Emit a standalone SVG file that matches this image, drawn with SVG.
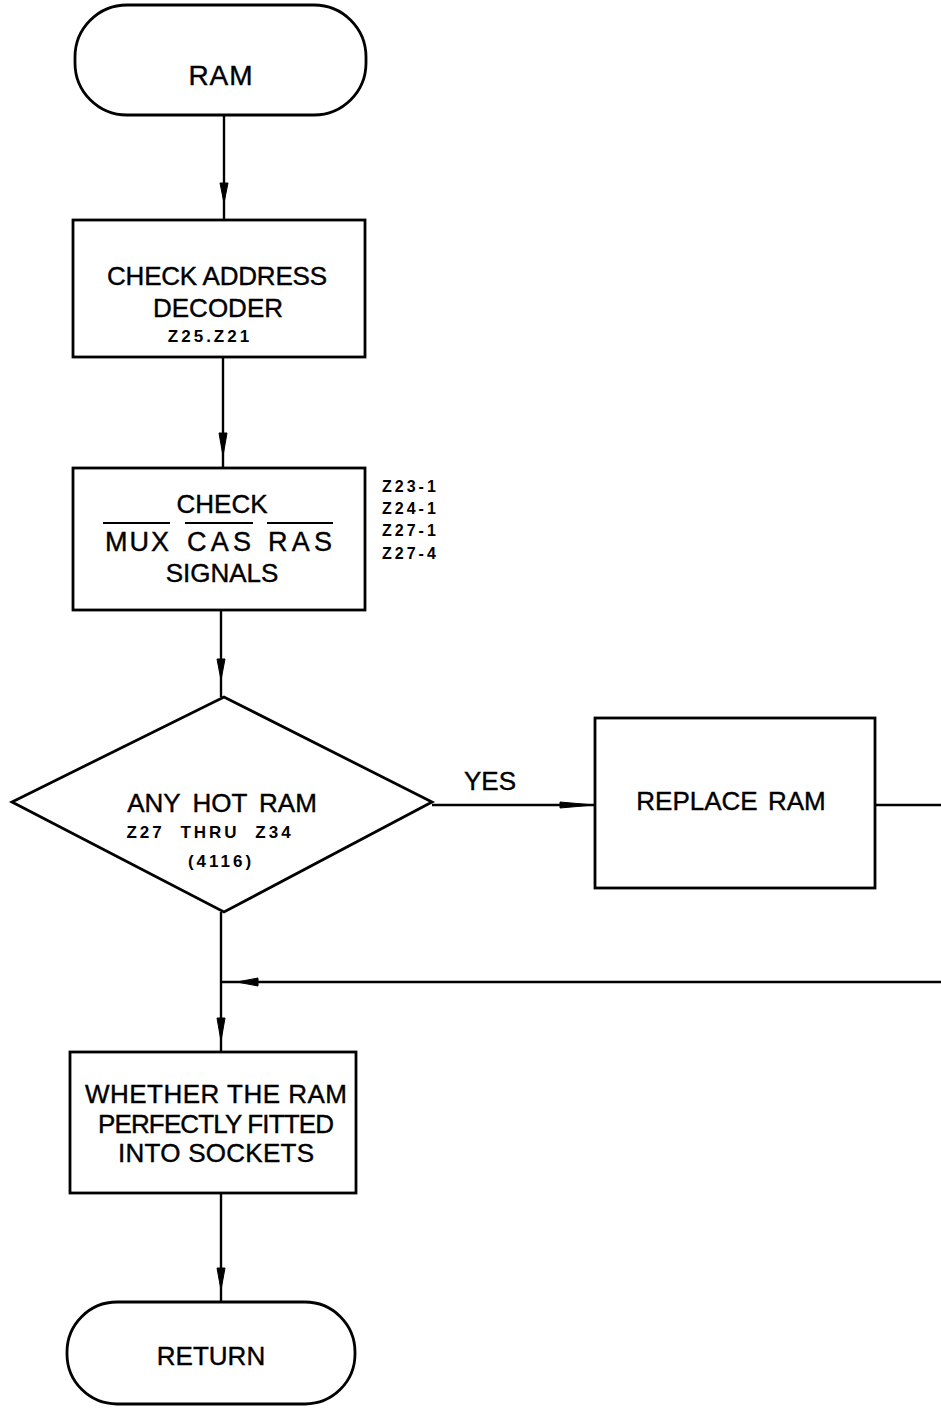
<svg xmlns="http://www.w3.org/2000/svg" width="941" height="1408" viewBox="0 0 941 1408">
<style>
.shape{fill:#fff;stroke:#000;stroke-width:2.8}
.line{fill:none;stroke:#000;stroke-width:2.4}
.head{fill:#000;stroke:#000;stroke-width:1}
.t{font-family:"Liberation Sans",Arial,sans-serif;font-size:26px;fill:#000;stroke:#000;stroke-width:0.4;text-anchor:middle}
.b{font-family:"Liberation Sans",Arial,sans-serif;font-size:17px;font-weight:bold;fill:#000;letter-spacing:3px}
.ov{stroke:#000;stroke-width:2.2}
</style>
<rect width="941" height="1408" fill="#fff"/>
<g id="connectors">
  <line class="line" x1="224" y1="115" x2="224" y2="220"/>
  <polygon class="head" points="220,183 228,183 224,203"/>
  <line class="line" x1="223" y1="357" x2="223" y2="468"/>
  <polygon class="head" points="219,433 227,433 223,456"/>
  <line class="line" x1="221" y1="610" x2="221" y2="697"/>
  <polygon class="head" points="217,659 225,659 221,680"/>
  <line class="line" x1="432" y1="805" x2="595" y2="805"/>
  <polygon class="head" points="560,802 560,808 594,805"/>
  <text class="t" x="490" y="790">YES</text>
  <line class="line" x1="875" y1="805" x2="941" y2="805"/>
  <line class="line" x1="941" y1="982" x2="221" y2="982"/>
  <polygon class="head" points="258,978 258,986 237,982"/>
  <line class="line" x1="221" y1="912" x2="221" y2="1052"/>
  <polygon class="head" points="217,1018 225,1018 221,1041"/>
  <line class="line" x1="221" y1="1193" x2="221" y2="1302"/>
  <polygon class="head" points="217,1268 225,1268 221,1290"/>
</g>
<g id="start">
  <rect class="shape" x="75" y="5" width="291" height="110" rx="52" ry="52"/>
  <text class="t" x="221" y="85" style="font-size:28px" letter-spacing="1">RAM</text>
</g>
<g id="check-address">
  <rect class="shape" x="73" y="220" width="292" height="137"/>
  <text class="t" x="217" y="285" textLength="220">CHECK ADDRESS</text>
  <text class="t" x="218" y="317">DECODER</text>
  <text class="b" x="210" y="342" text-anchor="middle" letter-spacing="4">Z25.Z21</text>
</g>
<g id="check-signals">
  <rect class="shape" x="73" y="468" width="292" height="142"/>
  <text class="t" x="222" y="513">CHECK</text>
  <line class="ov" x1="103" y1="523" x2="170" y2="523"/>
  <line class="ov" x1="185" y1="523" x2="253" y2="523"/>
  <line class="ov" x1="267" y1="523" x2="333" y2="523"/>
  <text class="t" x="137" y="551" style="font-size:27px" textLength="64">MUX</text>
  <text class="t" x="219" y="551" style="font-size:27px" textLength="64">CAS</text>
  <text class="t" x="300" y="551" style="font-size:27px" textLength="64">RAS</text>
  <text class="t" x="222" y="582">SIGNALS</text>
  <text class="b" x="382" y="492" style="font-size:16px" letter-spacing="4">Z23-1</text>
  <text class="b" x="382" y="514" style="font-size:16px" letter-spacing="4">Z24-1</text>
  <text class="b" x="382" y="536" style="font-size:16px" letter-spacing="4">Z27-1</text>
  <text class="b" x="382" y="559" style="font-size:16px" letter-spacing="4">Z27-4</text>
</g>
<g id="decision">
  <polygon class="shape" points="12,802 224,697 432,802 224,912"/>
  <text class="t" x="222" y="812" word-spacing="5">ANY HOT RAM</text>
  <text class="b" x="210" y="838" text-anchor="middle" word-spacing="8">Z27 THRU Z34</text>
  <text class="b" x="221" y="867" text-anchor="middle">(4116)</text>
</g>
<g id="replace">
  <rect class="shape" x="595" y="718" width="280" height="170"/>
  <text class="t" x="731" y="810" word-spacing="3">REPLACE RAM</text>
</g>
<g id="check-fit">
  <rect class="shape" x="70" y="1052" width="286" height="141"/>
  <text class="t" x="216" y="1103" textLength="262">WHETHER THE RAM</text>
  <text class="t" x="216" y="1133" textLength="236">PERFECTLY FITTED</text>
  <text class="t" x="216" y="1162" textLength="196">INTO SOCKETS</text>
</g>
<g id="return">
  <rect class="shape" x="67" y="1302" width="288" height="102" rx="50" ry="50"/>
  <text class="t" x="211" y="1365">RETURN</text>
</g>
</svg>
